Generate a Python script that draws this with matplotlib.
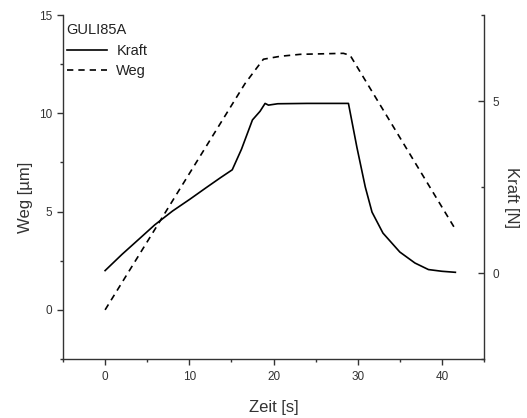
import numpy as np
import matplotlib.pyplot as plt
from matplotlib.ticker import MultipleLocator

plt.rcParams['font.family'] = ['Liberation Sans', 'DejaVu Sans']

# データ (Zeit [s], Weg [um], Kraft [N])
t_weg = [0, 16.6, 18.0, 18.8, 20.8, 23.2, 28.3, 29.1, 41.6]
weg = [0, 11.5, 12.3, 12.75, 12.9, 13.0, 13.05, 12.95, 4.1]

t_kraft = [0, 2, 4, 5.9, 8, 10.1, 12, 13.7, 15.1, 16.2, 17.5, 18.4, 19.0, 19.4,
           20.5, 24, 28.9, 29.9, 30.9, 31.7, 33.0, 35.0, 36.8, 38.4, 40, 41.6]
kraft = [0.07, 0.54, 0.98, 1.4, 1.8, 2.15, 2.48, 2.77, 3.0, 3.6, 4.45, 4.7, 4.93, 4.88,
         4.92, 4.93, 4.93, 3.66, 2.5, 1.77, 1.16, 0.61, 0.29, 0.1, 0.05, 0.02]

probe = "GULI85A"

fig = plt.figure(figsize=(5.27, 4.18), dpi=100)
ax = fig.add_axes([63/527, 1-359/418, (484-63)/527, (359-15)/418])
ax2 = ax.twinx()

spine_c = "#333333"
l1, = ax2.plot(t_kraft, kraft, color="black", lw=1.2, label="Kraft")
l2, = ax.plot(t_weg, weg, color="black", lw=1.2, linestyle=(0, (3.8, 3.0)), label="Weg")

ax.set_xlim(-5, 45)
ax.set_ylim(-2.5, 15)
ax2.set_ylim(-2.5, 7.5)

ax.xaxis.set_major_locator(MultipleLocator(10))
ax.xaxis.set_minor_locator(MultipleLocator(5))
ax.yaxis.set_major_locator(MultipleLocator(5))
ax.yaxis.set_minor_locator(MultipleLocator(2.5))
ax2.yaxis.set_major_locator(MultipleLocator(5))
ax2.yaxis.set_minor_locator(MultipleLocator(2.5))

for a in (ax, ax2):
    a.spines['top'].set_visible(False)
    for s in a.spines.values():
        s.set_color(spine_c)
        s.set_linewidth(1.0)

ax.spines['right'].set_visible(False)
ax2.spines['left'].set_visible(False)
ax2.spines['bottom'].set_visible(False)

ax.tick_params(axis='both', which='major', direction='out', length=4, width=1.0,
               color=spine_c, labelsize=8.5, labelcolor="#333333")
ax.tick_params(axis='both', which='minor', direction='out', length=2.5, width=1.0, color=spine_c)
ax.tick_params(axis='x', pad=5)
ax2.tick_params(axis='y', which='major', direction='in', length=4, width=1.0,
                color=spine_c, labelsize=8.5, labelcolor="#333333", pad=6)
ax2.tick_params(axis='y', which='minor', direction='in', length=2.5, width=1.0, color=spine_c)

ax.set_xlabel("Zeit [s]", fontsize=12, color="#333333", labelpad=12)
ax.set_ylabel("Weg [µm]", fontsize=12, color="#333333")
ax2.set_ylabel("Kraft [N]", fontsize=12, color="#333333", rotation=270, va="center")
ax.yaxis.set_label_coords(-0.072, 0.47)
ax2.yaxis.set_label_coords(1.066, 0.47)

leg = ax.legend([l1, l2], ["Kraft", "Weg"], title=probe, loc="upper left",
                bbox_to_anchor=(-0.005, 0.993),
                frameon=False, fontsize=10.5, title_fontsize=10.5, alignment="left",
                handlelength=2.75, handletextpad=0.65, borderaxespad=0.1,
                borderpad=0.3, labelspacing=0.45)
for txt in leg.get_texts():
    txt.set_color("#222222")
leg.get_title().set_color("#222222")

fig.savefig("out.png", dpi=100)
